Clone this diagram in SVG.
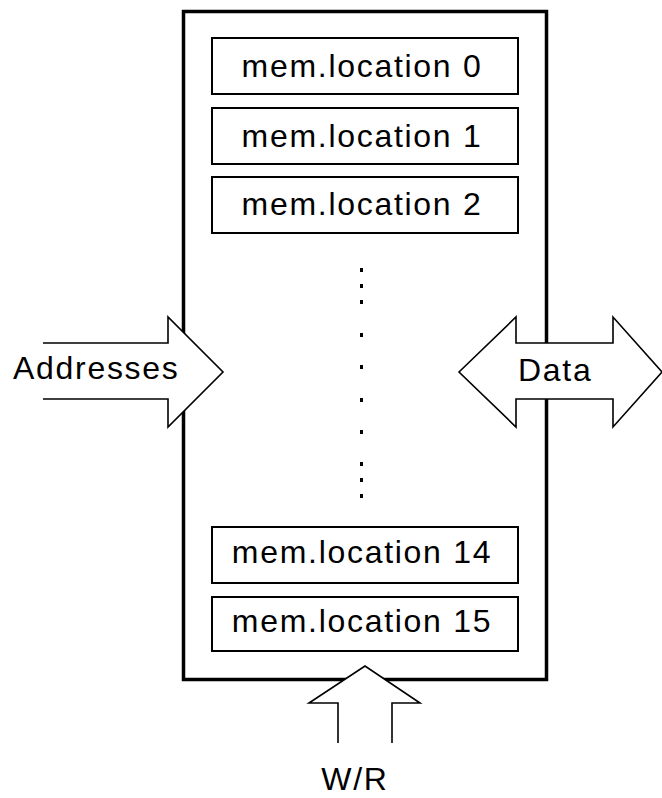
<svg xmlns="http://www.w3.org/2000/svg" width="662" height="798" viewBox="0 0 662 798">
<style>
.t{font-family:"Liberation Sans",Arial,sans-serif;font-size:32px;fill:#000;letter-spacing:1.7px}
.cell{fill:#fff;stroke:#000;stroke-width:2}
.arrow{fill:#fff;stroke:#000;stroke-width:1.6;stroke-linejoin:miter}
.dot{fill:#000}
</style>
<rect width="662" height="798" fill="#fff"/>
<g id="memory">
<rect x="183.5" y="11.5" width="363" height="668" fill="#fff" stroke="#000" stroke-width="3.5"/>
</g>
<g id="loc0"><rect class="cell" x="212" y="38" width="306" height="56"/><text class="t" x="362" y="77" text-anchor="middle">mem.location 0</text></g>
<g id="loc1"><rect class="cell" x="212" y="108" width="306" height="56"/><text class="t" x="362" y="147" text-anchor="middle">mem.location 1</text></g>
<g id="loc2"><rect class="cell" x="212" y="177" width="306" height="56"/><text class="t" x="362" y="215" text-anchor="middle">mem.location 2</text></g>
<g id="dots">
<rect class="dot" x="360" y="268" width="3" height="4"/>
<rect class="dot" x="360" y="284" width="3" height="4"/>
<rect class="dot" x="360" y="300" width="3" height="4"/>
<rect class="dot" x="360" y="333" width="3" height="4"/>
<rect class="dot" x="360" y="365" width="3" height="4"/>
<rect class="dot" x="360" y="398" width="3" height="4"/>
<rect class="dot" x="360" y="430" width="3" height="4"/>
<rect class="dot" x="360" y="462" width="3" height="4"/>
<rect class="dot" x="360" y="478" width="3" height="4"/>
<rect class="dot" x="360" y="494" width="3" height="4"/>
</g>
<g id="loc14"><rect class="cell" x="212" y="527" width="306" height="56"/><text class="t" x="362" y="563" text-anchor="middle">mem.location 14</text></g>
<g id="loc15"><rect class="cell" x="212" y="597" width="306" height="54"/><text class="t" x="362" y="632" text-anchor="middle">mem.location 15</text></g>
<g id="connectors">
<g id="addresses">
<path class="arrow" d="M43,343 H168 V317 L223,372 L168,427 V399 H43"/>
<path d="M43,344.5 V397.5" stroke="#fff" stroke-width="2" fill="none"/>
<text class="t" x="13" y="379">Addresses</text>
</g>
<g id="data">
<path class="arrow" d="M459,372 L516,317 V343 H613 V317 L662,372 L613,427 V399 H516 V427 Z"/>
<text class="t" x="518" y="381">Data</text>
</g>
<g id="wr">
<path class="arrow" d="M338,743 V703 H309 L365,666 L420,703 H392 V743"/>
<path d="M339.5,743 H390.5" stroke="#fff" stroke-width="2" fill="none"/>
<text class="t" x="355" y="790" text-anchor="middle">W/R</text>
</g>
</g>
</svg>
